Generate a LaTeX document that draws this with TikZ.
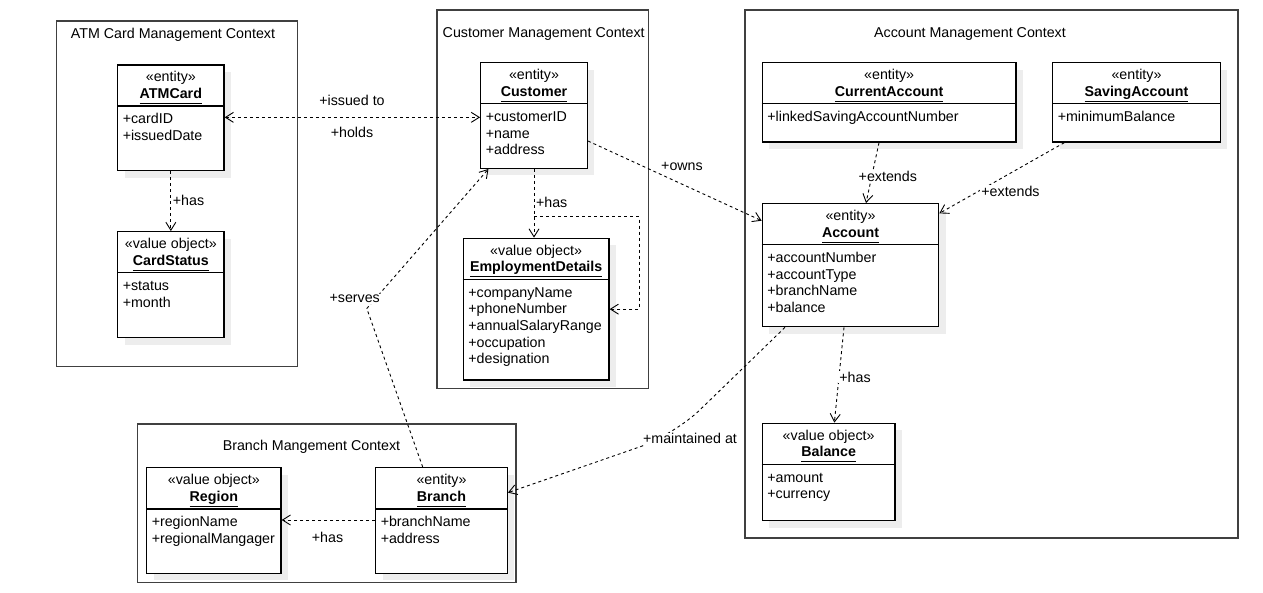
\documentclass[tikz,border=0pt]{standalone}
\usepackage{fontspec}
\setmainfont{Liberation Sans}
\usetikzlibrary{arrows.meta,calc}
\newcommand{\ulname}[1]{{\setbox0\hbox{\bfseries #1}\rlap{\rule[-5.6pt]{\wd0}{1.1pt}}\box0}}
\newcommand{\umlclass}[8]{%
  \fill[shadowc] ({#2-#4/2+7},{#3-#5/2+7}) rectangle ({#2+#4/2+7},{#3+#5/2+7});
  \node[cls, minimum width=#4pt, minimum height=#5pt] (#1) at (#2,#3) {};
  \draw[line width=1.3pt] ($(#1.north west)+(0,41.8)$) -- ($(#1.north east)+(0,41.8)$);
  \node[hdr] (#1-h) at ($(#1.north)+(0,5.5)$) {\strut«#6»\\\ulname{#7}};
  \node[attrs] (#1-a) at ($(#1.north west)+(5.5,47.6)$) {\strut #8};
}
\begin{document}
\begin{tikzpicture}[x=1pt,y=-1pt,
  every node/.style={font=\fontsize{14.25}{16.7}\selectfont, inner sep=0pt},
  frame/.style={draw=black!75, line width=1.2pt},
  shadowc/.style={fill=black!7},
  cls/.style={draw=black, line width=1.3pt, fill=white, inner sep=0pt},
  hdr/.style={anchor=north, align=center},
  attrs/.style={anchor=north west, align=left},
  dep/.style={draw, dash pattern=on 3pt off 3pt, line width=0.9pt, -{Straight Barb[length=8pt,width=10pt]}},
  lbl/.style={fill=white, inner sep=1pt},
  ctitle/.style={anchor=base},
]
\useasboundingbox (0,0) rectangle (1263,593);
\fill[white] (0,0) rectangle (1263,593);

% context frames
\draw[frame] (56.7,21) rectangle (297.7,366.7);
\draw[frame] (437,10) rectangle (648.3,388.3);
\draw[frame] (745,10) rectangle (1238,538);
\draw[frame] (137.7,424) rectangle (516,582.3);
\node[ctitle] (t-atm) at (173,38.5) {ATM Card Management Context};
\node[ctitle] (t-cus) at (543.7,37.2) {Customer Management Context};
\node[ctitle] (t-acc) at (970,37.2) {Account Management Context};
\node[ctitle] (t-br) at (311.5,450) {Branch Mangement Context};

% classes
\umlclass{atm}{170.85}{117.85}{106.3}{105.7}{entity}{ATMCard}{+cardID\\+issuedDate}
\umlclass{cst}{170.85}{284.7}{106.3}{106}{value object}{CardStatus}{+status\\+month}
\umlclass{cust}{534}{115.5}{106.6}{105.6}{entity}{Customer}{+customerID\\+name\\+address}
\umlclass{emp}{536.15}{309.15}{145.7}{141.7}{value object}{EmploymentDetails}{+companyName\\+phoneNumber\\+annualSalaryRange\\+occupation\\+designation}
\umlclass{cur}{889.15}{102.35}{253.7}{79.3}{entity}{CurrentAccount}{+linkedSavingAccountNumber}
\umlclass{sav}{1136.5}{102.35}{167.6}{79.3}{entity}{SavingAccount}{+minimumBalance}
\umlclass{acc}{850.5}{265.2}{176.4}{123}{entity}{Account}{+accountNumber\\+accountType\\+branchName\\+balance}
\umlclass{bal}{828.65}{472}{132.7}{97.4}{value object}{Balance}{+amount\\+currency}
\umlclass{reg}{213.85}{520.5}{134.3}{105.6}{value object}{Region}{+regionName\\+regionalMangager}
\umlclass{br}{441.5}{520.5}{131.6}{105.6}{entity}{Branch}{+branchName\\+address}

% connectors
\draw[dep, {Straight Barb[length=8pt,width=10pt]}-{Straight Barb[length=8pt,width=10pt]}]
  ($(atm.east)+(0,-0.5)$) -- ($(atm.east -| cust.west)+(0,-0.5)$);
\node[lbl] (l-iss) at (352,100.5) {+issued to};
\node[lbl] (l-hold) at (352,132.5) {+holds};

\draw[dep] (atm.south) -- (cst.north);
\node[lbl, anchor=west] (l-has1) at (171.7,200.5) {+has};

\draw[dep] (cust.south) -- (cust.south |- emp.north);
\node[lbl, anchor=west] (l-has2) at (534.8,202.5) {+has};

\coordinate (lp0) at (534,216.7);
\coordinate (lp1) at (639,216.7);
\draw[dep] (lp0) -- (lp1) |- (emp.east);

\draw[dep] ($(cust.east)+(0,25.5)$) -- ($(acc.west)+(0,-44.5)$);
\node[lbl] (l-own) at (682,166.5) {+owns};

\coordinate (sv) at (366.8,308.5);
\draw[dep] ($(br.north)+(-18.8,0)$) -- (sv) -- ($(cust.south west)+(8.4,0)$);
\node[lbl] (l-srv) at (354.7,298.8) {+serves};

\coordinate (mt) at (674,435);
\draw[dep, rounded corners=36pt] ($(acc.south)+(-65.5,0)$) -- (mt) -- ($(br.north east)+(0,25.6)$);
\node[lbl] (l-mnt) at (690,438.8) {+maintained at};

\draw[dep] ($(cur.south)+(-10.15,0)$) -- ($(acc.north)+(15.5,0)$);
\node[lbl] (l-ext1) at (887.8,176.5) {+extends};

\draw[dep] ($(sav.south west)+(12.3,0)$) -- ($(acc.north east)+(0,10.3)$);
\node[lbl] (l-ext2) at (1010.5,191.5) {+extends};

\draw[dep] ($(acc.south)+(-6.5,0)$) -- ($(bal.north)+(5.7,0)$);
\node[lbl] (l-has3) at (855,377) {+has};

\draw[dep] ($(br.west)+(0,-0.5)$) -- ($(reg.east)+(0,-0.5)$);
\node[lbl] (l-has4) at (327.5,537.8) {+has};
\end{tikzpicture}
\end{document}
